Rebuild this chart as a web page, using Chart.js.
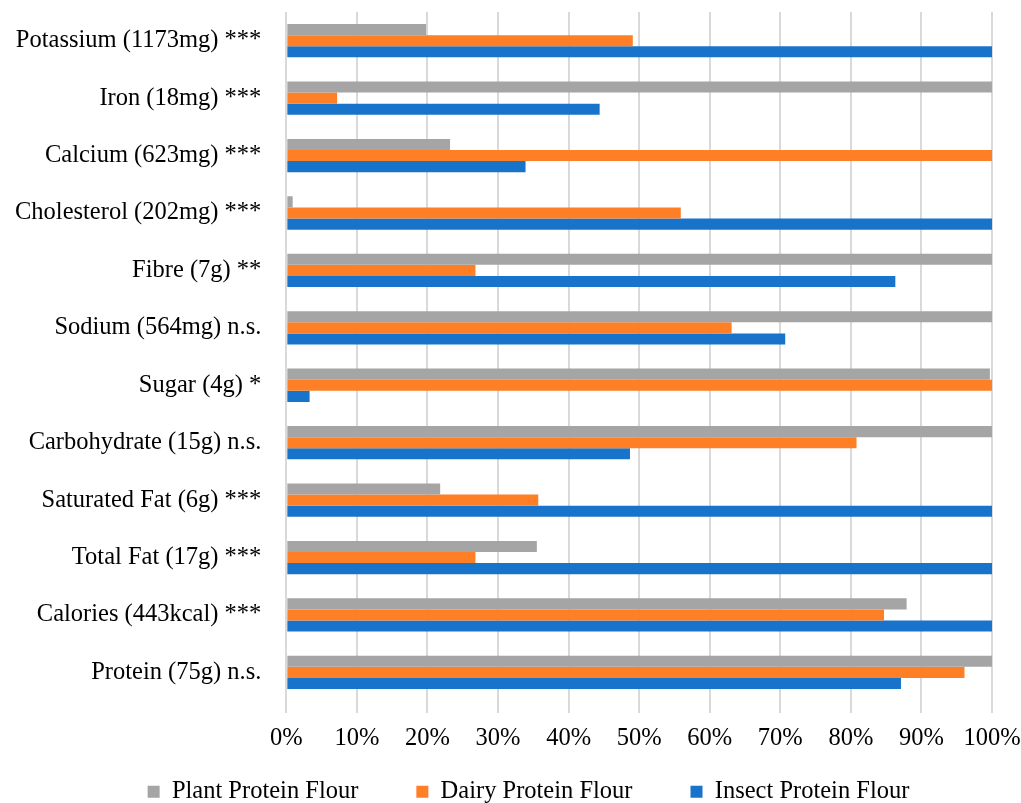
<!DOCTYPE html>
<html>
<head>
<meta charset="utf-8">
<script src="https://cdn.jsdelivr.net/npm/chart.js@4.4.1/dist/chart.umd.min.js"></script>
<style>
  html, body { margin: 0; padding: 0; background: #fff; }
  #wrap { width: 1021px; height: 803px; }
</style>
</head>
<body>
<div id="wrap"><canvas id="nutri" width="1021" height="803"></canvas></div>
<script>
// categories, top to bottom
const nutrients = [
  "Potassium (1173mg) ***",
  "Iron (18mg) ***",
  "Calcium (623mg) ***",
  "Cholesterol (202mg) ***",
  "Fibre (7g) **",
  "Sodium (564mg) n.s.",
  "Sugar (4g) *",
  "Carbohydrate (15g) n.s.",
  "Saturated Fat (6g) ***",
  "Total Fat (17g) ***",
  "Calories (443kcal) ***",
  "Protein (75g) n.s."
];
// % of the highest value
const plantFlour  = [19.8, 100, 23.2, 0.9, 100, 100, 99.7, 100, 21.8, 35.5, 87.9, 100];
const dairyFlour  = [49.1, 7.2, 100, 55.9, 26.8, 63.1, 100, 80.8, 35.7, 26.8, 84.7, 96.1];
const insectFlour = [100, 44.4, 33.9, 100, 86.3, 70.7, 3.3, 48.7, 100, 100, 100, 87.1];
const seriesNames = ["Plant Protein Flour", "Dairy Protein Flour", "Insect Protein Flour"];
const xTicks = [0, 10, 20, 30, 40, 50, 60, 70, 80, 90, 100];

const serif = "'Liberation Serif', 'DejaVu Serif', serif";
const fontSize = 24.5;

// legend padding is big (for the gaps between items), so move it back up a bit
const legendNudge = {
  id: "legendNudge",
  afterLayout(chart) {
    const lg = chart.legend;
    if (!lg) return;
    const dx = 25, dy = -43;
    lg.left += dx; lg.right += dx;
    lg.top += dy; lg.bottom += dy;
  }
};

const ctx = document.getElementById("nutri").getContext("2d");
new Chart(ctx, {
  type: "bar",
  data: {
    labels: nutrients,
    datasets: [
      { label: seriesNames[0], data: plantFlour,  backgroundColor: "#a5a5a5" },
      { label: seriesNames[1], data: dairyFlour,  backgroundColor: "#ff7f27" },
      { label: seriesNames[2], data: insectFlour, backgroundColor: "#1874cb" }
    ]
  },
  plugins: [legendNudge],
  options: {
    indexAxis: "y",
    responsive: false,
    animation: false,
    layout: { padding: { left: 15, right: 29, top: 12, bottom: -54 } },
    datasets: {
      bar: { categoryPercentage: 0.58, barPercentage: 1.0, borderWidth: 0 }
    },
    scales: {
      x: {
        min: 0,
        max: 100,
        afterBuildTicks: (axis) => { axis.ticks = xTicks.map(v => ({ value: v })); },
        afterFit: (axis) => { axis.paddingLeft = 0; axis.paddingRight = 0; },
        ticks: {
          callback: (v) => v + "%",
          color: "#000",
          font: { family: serif, size: fontSize },
          padding: 11
        },
        grid: { color: "#d9d9d9", lineWidth: 2, tickLength: 12, drawTicks: true },
        border: { display: false }
      },
      y: {
        afterFit: (axis) => {
          axis.paddingTop = 0;
          axis.paddingBottom = 0;
          axis.width -= axis.options.ticks.padding;
        },
        ticks: {
          color: "#000",
          font: { family: serif, size: fontSize },
          padding: 25
        },
        grid: { display: false, drawTicks: false },
        border: { display: false }
      }
    },
    plugins: {
      legend: {
        position: "bottom",
        labels: {
          color: "#000",
          font: { family: serif, size: fontSize },
          boxWidth: 12,
          boxHeight: 12,
          padding: 58,
          useBorderRadius: false
        }
      },
      tooltip: { enabled: false }
    }
  }
});
</script>
</body>
</html>
